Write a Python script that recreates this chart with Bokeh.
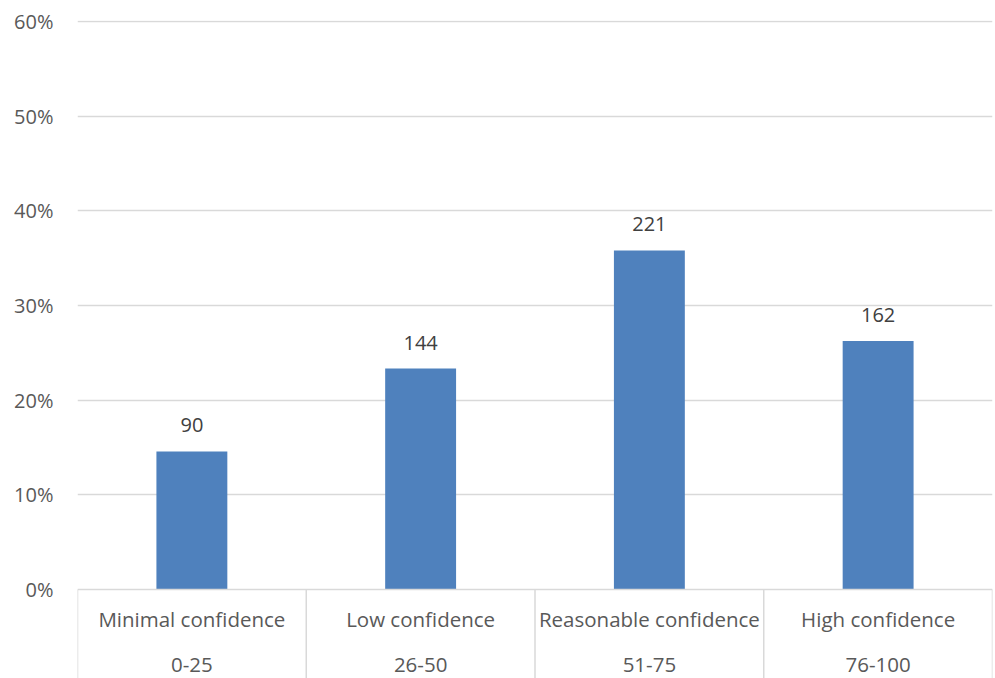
from bokeh.plotting import figure
from bokeh.models import (ColumnDataSource, FactorRange, Range1d, FixedTicker,
                          NumeralTickFormatter)
from bokeh.core.properties import value
from bokeh.embed import file_html
from bokeh.resources import INLINE

# Confidence bands, their score ranges and respondent counts
categories = ["Minimal confidence", "Low confidence", "Reasonable confidence", "High confidence"]
ranges = ["0-25", "26-50", "51-75", "76-100"]
counts = [90, 144, 221, 162]
y_ticks = [0.0, 0.1, 0.2, 0.3, 0.4, 0.5, 0.6]

total = sum(counts)
shares = [c / total for c in counts]

FONT = "Open Sans"
BAR = "#4F81BD"
GRID = "#D9D9D9"
TXT = "#595959"

# Pixels per unit share: 60% spans 568 px; the axis box below zero is ~89 px
px_per_unit = 568 / 0.6
y_bottom = -89 / px_per_unit

src = ColumnDataSource(dict(cat=categories, share=shares,
                            lbl=[str(c) for c in counts], rng=ranges,
                            zero=[0.0] * len(categories)))

p = figure(width=995, height=678, output_backend="svg", toolbar_location=None,
           x_range=FactorRange(factors=categories, range_padding=0),
           y_range=Range1d(y_bottom, 0.6 + 1 / px_per_unit),
           min_border_left=77, min_border_right=3, min_border_top=20,
           min_border_bottom=0)
p.outline_line_color = None
p.background_fill_color = "white"
p.border_fill_color = "white"

# y axis: percentage labels only, no line or ticks
p.yaxis.ticker = FixedTicker(ticks=y_ticks)
p.yaxis.formatter = NumeralTickFormatter(format="0%")
p.yaxis.axis_line_color = None
p.yaxis.major_tick_line_color = None
p.yaxis.major_tick_out = 0
p.yaxis.major_tick_in = 0
p.yaxis.minor_tick_line_color = None
p.yaxis.minor_tick_out = 0
p.yaxis.major_label_standoff = 24
p.yaxis.major_label_text_font = FONT
p.yaxis.major_label_text_font_size = "20px"
p.yaxis.major_label_text_color = TXT
p.xaxis.visible = False

p.ygrid.ticker = FixedTicker(ticks=y_ticks[1:])
p.ygrid.grid_line_color = GRID
p.ygrid.grid_line_width = 1.3
p.xgrid.grid_line_color = None

p.vbar(x="cat", top="share", bottom=0, width=0.31, source=src,
       fill_color=BAR, line_color=None)

# Category axis: baseline plus boxed cells for the two label rows
first, last = categories[0], categories[-1]
p.segment(x0=[(first, -0.5)], y0=[0], x1=[(last, 0.5)], y1=[0],
          line_color=GRID, line_width=1.5)
sep_x = [(c, -0.5) for c in categories] + [(last, 0.5)]
p.segment(x0=sep_x, y0=[0] * len(sep_x), x1=sep_x, y1=[y_bottom] * len(sep_x),
          line_color=GRID, line_width=1.5)

# Count labels above bars
p.text(x="cat", y="share", text="lbl", source=src, text_align="center",
       text_baseline="middle", y_offset=-26, text_font=value(FONT),
       text_font_size="20px", text_color="#404040")

# Two-row category labels
p.text(x="cat", y="zero", text="cat", source=src, text_align="center",
       text_baseline="middle", y_offset=29, text_font=value(FONT),
       text_font_size="20.5px", text_color=TXT)
p.text(x="cat", y="zero", text="rng", source=src, text_align="center",
       text_baseline="middle", y_offset=75, text_font=value(FONT),
       text_font_size="20.5px", text_color=TXT)

open("out.html", "w").write(file_html(p, INLINE))
